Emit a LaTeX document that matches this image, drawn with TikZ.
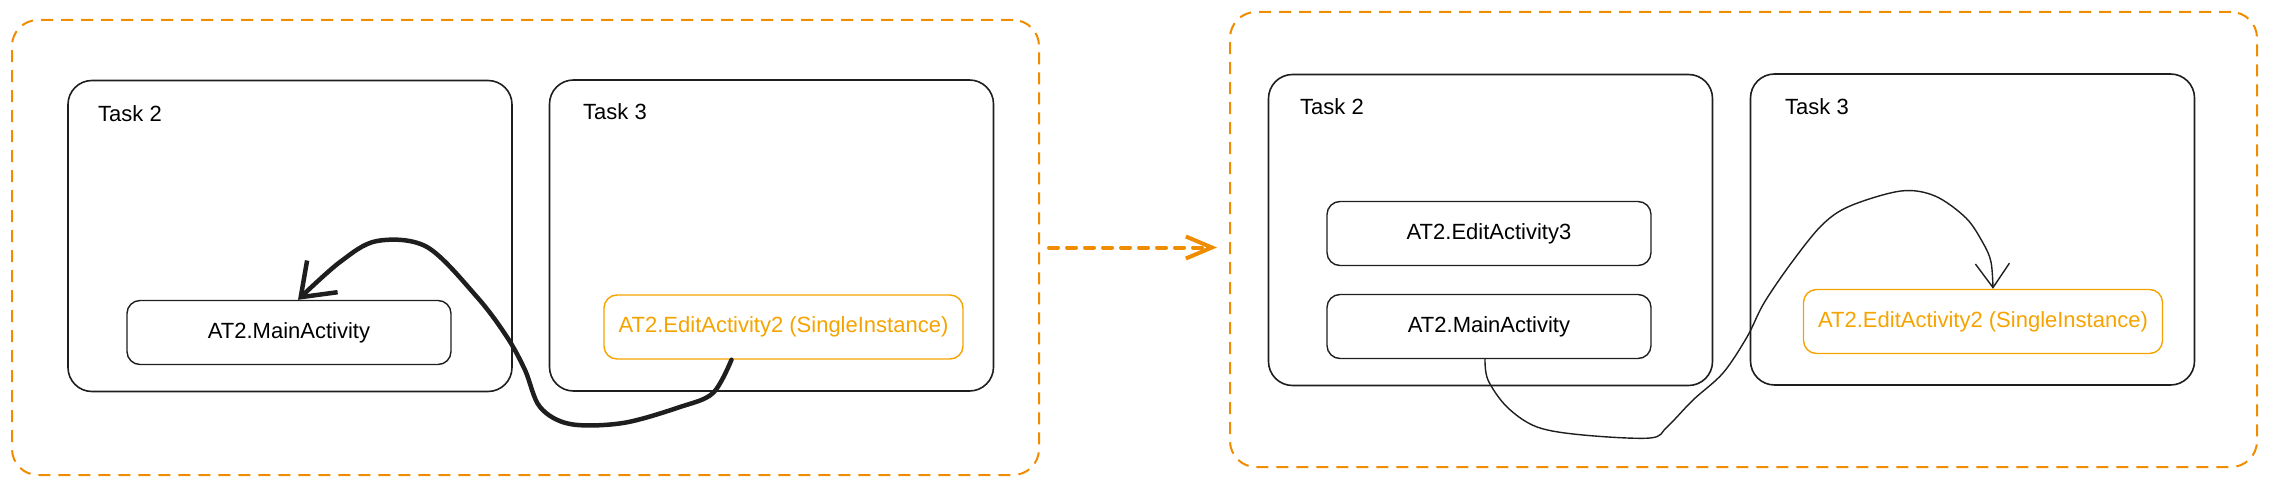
\documentclass[tikz,border=0pt]{standalone}
\usepackage{fontspec}
\setmainfont{Liberation Sans}
\usetikzlibrary{arrows.meta,positioning}
\definecolor{org}{HTML}{F08C00}
\definecolor{ylw}{HTML}{F5A300}
\definecolor{ink}{HTML}{1E1E1E}
\tikzset{fr/.style={draw=org,line width=2pt,dash pattern=on 12pt off 8pt,rounded corners=26pt,minimum width=1027pt,minimum height=455pt,inner sep=0pt},
tb/.style={draw=ink,line width=1.6pt,rounded corners=24pt,minimum width=444pt,minimum height=311pt,inner sep=0pt},
ab/.style={draw=ink,line width=1.4pt,rounded corners=13pt,minimum width=324pt,minimum height=64pt,inner sep=0pt},
si/.style={ab,draw=ylw,text=ylw,minimum width=359pt},
tl/.style={anchor=base west,inner sep=0pt}}

\begin{document}
\begin{tikzpicture}[x=1pt,y=-1pt]
\tikzstyle{every node}=[font=\fontsize{22}{26}\selectfont]
\useasboundingbox (0,0) rectangle (2269,484);
\node[fr] (fa) at (525.5,247.5) {};
\node[tb] (t2a) at (290,236) {};
\node[tb] (t3a) at (771.5,235.5) {};
\node[tl] (l2a) at (98,122) {Task 2};
\node[tl] (l3a) at (583,120) {Task 3};
\node[ab] (maina) at (289,332.5) {AT2.MainActivity};
\node[si] (ea2a) at (783.5,327) {AT2.EditActivity2 (SingleInstance)};
\node[fr] (fb) at (1743.5,239.5) {};
\node[tb] (t2b) at (1490.5,230) {};
\node[tb] (t3b) at (1972.5,229.5) {};
\node[tl] (l2b) at (1300,115) {Task 2};
\node[tl] (l3b) at (1785,115) {Task 3};
\node[ab] (ea3b) at (1489,233.5) {AT2.EditActivity3};
\node[ab] (mainb) at (1489,326.5) {AT2.MainActivity};
\node[si] (ea2b) at (1983,321.5) {AT2.EditActivity2 (SingleInstance)};
\draw[org,line width=4pt,line cap=round,dash pattern=on 9pt off 9pt,-{Straight Barb[length=26pt,width=22pt]}] ([xshift=9pt]fa.east) -- ([xshift=-12pt]fa.east -| fb.west);
\draw[ink,line width=4.5pt,line cap=round,line join=round,-{Straight Barb[length=30pt,width=44pt]}] plot[smooth,tension=0.55] coordinates {([xshift=-52pt]ea2a.south) (713,393) (680,407) (623,423) (570,424) (540,407) (525,370) (507,337) (477,297) (427,247) (377,241) (340,262) ([xshift=9pt]maina.north)};
\draw[ink,line width=1.4pt,line cap=round,-{Straight Barb[length=24pt,width=34pt]}] plot[smooth,tension=0.55] coordinates {([xshift=-4pt]mainb.south) (1488,380) (1507,407) (1537,427) (1583,435) (1650,438) (1667,427) (1693,400) (1723,373) (1747,337) (1764,303) (1792,262) (1822,225) (1850,206) (1901,191) (1935,196) (1966,218) (1983,243) (1991,262) ([xshift=10pt]ea2b.north)};
\end{tikzpicture}
\end{document}
